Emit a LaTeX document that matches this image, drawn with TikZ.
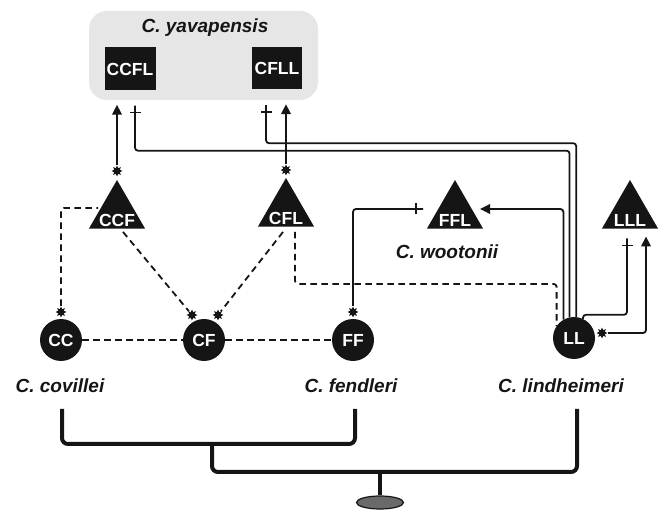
\documentclass[tikz,border=0pt]{standalone}
\usepackage{fontspec}
\setmainfont{Liberation Sans}
\usetikzlibrary{shapes.geometric,arrows.meta,decorations.markings,calc}
\definecolor{boxgray}{HTML}{E6E6E6}
\definecolor{rootgray}{HTML}{6A6A6A}
\definecolor{ink}{HTML}{151515}
\begin{document}
\begin{tikzpicture}[x=1pt,y=-1pt,
  lbl/.style={text=white,font=\bfseries\fontsize{17.5}{17.5}\selectfont},
  spc/.style={text=ink,font=\bfseries\itshape\fontsize{19}{19}\selectfont,inner sep=0pt},
  sqnode/.style={fill=ink,minimum width=51pt,minimum height=43pt,inner sep=0pt,lbl},
  tri/.style={regular polygon,regular polygon sides=3,fill=ink,minimum size=65pt,inner sep=0pt},
  circ/.style={circle,fill=ink,minimum size=42pt,inner sep=0pt,lbl},
  burst/.style={star,star points=8,star point ratio=1.8,fill=ink,minimum size=11pt,inner sep=0pt},
  link/.style={draw=ink,line width=1.8pt,rounded corners=3pt},
  dlink/.style={link,dash pattern=on 6.5pt off 4.5pt},
  arr/.style={-{Triangle[length=10pt,width=9.5pt]}},
  tee/.style={postaction={decorate,decoration={markings,mark=at position -7pt with {\draw[ink,solid,line width=1.6pt] (0,-5.5pt)--(0,5.5pt);}}}},
  tree/.style={draw=ink,line width=4pt,rounded corners=6pt}
]
\useasboundingbox (0,0) rectangle (659,510);

% C. yavapensis box
\node[fill=boxgray,rounded corners=18pt,minimum width=229pt,minimum height=89pt,inner sep=0pt] (yav) at (203.5,55.5) {};
\node[spc] (tyav) at (205,28) {C. yavapensis};
\node[sqnode] (CCFL) at (130,69) {CCFL};
\node[sqnode,minimum width=50pt,minimum height=42pt] (CFLL) at (277,68) {CFLL};

% triangles
\node[tri,label={[lbl,yshift=-7.5pt]center:CCF}] (CCF) at (117,212.5) {};
\node[tri,label={[lbl,yshift=-7.5pt]center:CFL}] (CFL) at (286,210.5) {};
\node[tri,label={[lbl,yshift=-7.5pt]center:FFL}] (FFL) at (455,212.5) {};
\node[tri,label={[lbl,yshift=-7.5pt]center:LLL}] (LLL) at (630,212.5) {};
\node[spc] (lwoo) at (447,252) {C. wootonii};

% circles
\node[circ] (CC) at (61,340) {CC};
\node[circ] (CF) at (204,340) {CF};
\node[circ] (FF) at (353,340) {FF};
\node[circ] (LL) at (574,338) {LL};

% stars
\node[burst] (sCC) at (61,312) {};
\node[burst] (sCF1) at (192,315) {};
\node[burst] (sCF2) at (218,315) {};
\node[burst] (sFF) at (353,312) {};
\node[burst] (sCCF) at (117,171) {};
\node[burst] (sCFL) at (286,170) {};
\node[burst] (sLL) at (602,333) {};

% species labels
\node[spc] (lcov) at (60,386) {C. covillei};
\node[spc] (lfen) at (351,386) {C. fendleri};
\node[spc] (llin) at (561,386) {C. lindheimeri};

% connectors to C. yavapensis
\draw[link,arr] (sCCF) -- ([xshift=-13pt,yshift=-14pt]CCFL.south);
\draw[link,arr] (sCFL) -- ([xshift=9pt,yshift=-15pt]CFLL.south);
\draw[link,tee] (LL.102) |- ($(CCFL.south)+(5,60)$) -- ([xshift=5pt,yshift=-15pt]CCFL.south);
\draw[link,tee] (LL.84) |- ($(CFLL.south)+(-11,54)$) -- ([xshift=-11pt,yshift=-16pt]CFLL.south);

% connectors to FFL
\draw[link,arr] (LL.120) |- ([xshift=25pt,yshift=3.5pt]FFL.center);
\draw[link,tee] (sFF) |- ([xshift=-32pt,yshift=3.5pt]FFL.center);

% connectors to LLL
\draw[link,tee] (LL.65) -- ++(0,-4) -| ([xshift=-3pt,yshift=-9.5pt]LLL.south);
\draw[link,arr] (sLL) -| ([xshift=16pt,yshift=-7.5pt]LLL.south);

% dashed links
\draw[dlink] (sCC) |- ([yshift=4.5pt]CCF.west);
\draw[dlink] ([xshift=6pt,yshift=-3pt]CCF.south) -- (sCF1);
\draw[dlink] ([xshift=-3pt,yshift=-5pt]CFL.south) -- (sCF2);
\draw[dlink] ([xshift=9pt,yshift=-5pt]CFL.south) -- ++(0,52) -| (LL.145);
\draw[dlink] (CC) -- (CF);
\draw[dlink] (CF) -- (FF);

% tree
\coordinate (tc) at (62,409);
\coordinate (tf) at (355,409);
\coordinate (tl) at (577,409);
\coordinate (j1) at (212,444);
\coordinate (j2) at (380,472);
\node[ellipse,minimum width=47pt,minimum height=13pt,inner sep=0pt,fill=rootgray,draw=ink,line width=1.2pt] (root) at (380,502.5) {};
\draw[tree] (tc) -- ++(0,35) -| (tf);
\draw[tree] (j1) -- ++(0,28) -| (tl);
\draw[draw=ink,line width=3.5pt] (j2) -- (root);
\end{tikzpicture}
\end{document}
